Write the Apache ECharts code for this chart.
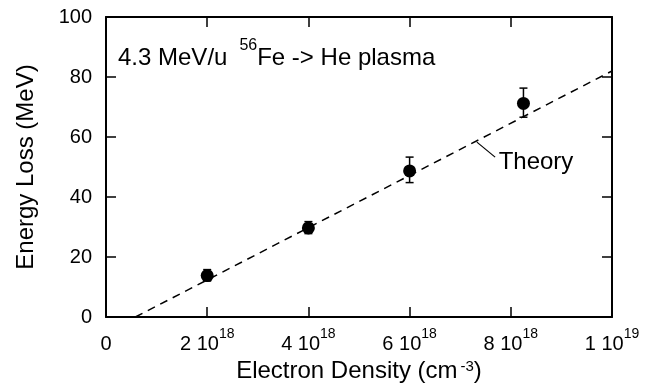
<!DOCTYPE html>
<html>
<head>
<meta charset="utf-8">
<script src="https://cdn.jsdelivr.net/npm/echarts@6/dist/echarts.min.js"></script>
<style>
html, body { margin: 0; padding: 0; background: #fff; }
#chart { width: 661px; height: 390px; }
</style>
</head>
<body>
<div id="chart"></div>
<script>
// measured points (cm^-3, MeV)
const density = [2.0e18, 4.0e18, 6.0e18, 8.25e18];
const energyLoss = [13.8, 29.7, 48.7, 71.2];
const errLow = [12.0, 27.8, 44.8, 66.6];
const errHigh = [15.8, 31.8, 53.3, 76.3];

// theory curve (straight line)
const theoryX = [0.58e18, 1.0e19];
const theoryY = [0, 82];

// tick labels: mantissa part + exponent
const xTickLabels = [['0', ''], ['2 10', '18'], ['4 10', '18'], ['6 10', '18'], ['8 10', '18'], ['1 10', '19']];
const yTickLabels = ['0', '20', '40', '60', '80', '100'];

const FONT = '"Liberation Sans", Arial, Helvetica, sans-serif';

const chartDom = document.getElementById('chart');
const chart = echarts.init(chartDom, null, { renderer: 'canvas' });

const boxLine = { show: true, onZero: false, lineStyle: { color: '#000', width: 2 } };
const tick = { show: true, inside: true, length: 10, lineStyle: { color: '#000', width: 1.5 } };

const option = {
    animation: false,
    backgroundColor: '#fff',
    grid: { left: 106, top: 17, right: 49, bottom: 73 },
    xAxis: [
        {
            type: 'value', position: 'bottom', min: 0, max: 1e19, interval: 2e18,
            axisLine: boxLine, axisTick: tick, splitLine: { show: false },
            axisLabel: {
                margin: 10,
                formatter: function (v) {
                    const t = xTickLabels[Math.round(v / 2e18)];
                    return t[1] ? '{n|' + t[0] + '}{sup|' + t[1] + '}' : '{n|' + t[0] + '}';
                },
                rich: {
                    n: { fontSize: 20, fontFamily: FONT, color: '#000', padding: [7, 0, 0, 0], verticalAlign: 'bottom' },
                    sup: { fontSize: 14, fontFamily: FONT, color: '#000', verticalAlign: 'top' }
                }
            },
            name: 'Electron Density (cm{sup|-3})',
            nameLocation: 'middle',
            nameGap: 40,
            nameTextStyle: {
                fontSize: 24, fontFamily: FONT, color: '#000',
                rich: {
                    sup: { fontSize: 15, fontFamily: FONT, color: '#000', verticalAlign: 'top', padding: [0, 0, 0, 3] }
                }
            }
        },
        {
            type: 'value', position: 'top', min: 0, max: 1e19, interval: 2e18,
            axisLine: boxLine, axisTick: tick, axisLabel: { show: false }, splitLine: { show: false }
        }
    ],
    yAxis: [
        {
            type: 'value', position: 'left', min: 0, max: 100, interval: 20,
            axisLine: boxLine, axisTick: tick, splitLine: { show: false },
            axisLabel: {
                margin: 14, fontSize: 20, fontFamily: FONT, color: '#000',
                formatter: function (v) { return yTickLabels[Math.round(v / 20)]; }
            },
            name: 'Energy Loss (MeV)',
            nameLocation: 'middle',
            nameGap: 68,
            nameTextStyle: { fontSize: 24, fontFamily: FONT, color: '#000' }
        },
        {
            type: 'value', position: 'right', min: 0, max: 100, interval: 20,
            axisLine: boxLine, axisTick: tick, axisLabel: { show: false }, splitLine: { show: false }
        }
    ],
    series: [
        {
            name: 'Theory',
            type: 'line',
            data: theoryX.map((x, i) => [x, theoryY[i]]),
            symbol: 'none',
            lineStyle: { color: '#000', width: 1.5, type: [8, 6] },
            z: 2
        },
        {
            name: 'errors',
            type: 'custom',
            data: density.map((x, i) => [x, energyLoss[i], errLow[i], errHigh[i]]),
            renderItem: function (params, api) {
                const x = api.value(0);
                const lo = api.coord([x, api.value(2)]);
                const hi = api.coord([x, api.value(3)]);
                const cap = 4;
                const st = { stroke: '#000', lineWidth: 1.5 };
                return {
                    type: 'group',
                    children: [
                        { type: 'line', shape: { x1: lo[0], y1: lo[1], x2: hi[0], y2: hi[1] }, style: st },
                        { type: 'line', shape: { x1: lo[0] - cap, y1: lo[1], x2: lo[0] + cap, y2: lo[1] }, style: st },
                        { type: 'line', shape: { x1: hi[0] - cap, y1: hi[1], x2: hi[0] + cap, y2: hi[1] }, style: st }
                    ]
                };
            },
            z: 3
        },
        {
            name: 'data',
            type: 'scatter',
            data: density.map((x, i) => [x, energyLoss[i]]),
            symbol: 'circle',
            symbolSize: 13,
            itemStyle: { color: '#000', opacity: 1 },
            z: 4
        }
    ]
};

chart.setOption(option);

// annotations
const theoryLeader = [[7.33e18, 58.3], [7.69e18, 53.3]];
const theoryText = [7.76e18, 51.7];
const p1 = chart.convertToPixel({ seriesIndex: 0 }, theoryLeader[0]);
const p2 = chart.convertToPixel({ seriesIndex: 0 }, theoryLeader[1]);
const pt = chart.convertToPixel({ seriesIndex: 0 }, theoryText);

chart.setOption({
    graphic: [
        {
            type: 'text',
            left: 118, top: 38,
            style: {
                text: '{n|4.3 MeV/u}{sup|56}{n|Fe -> He plasma}',
                fill: '#000',
                rich: {
                    n: { fontSize: 24, fontFamily: FONT, fill: '#000', padding: [8, 0, 0, 0], verticalAlign: 'bottom' },
                    sup: { fontSize: 16, fontFamily: FONT, fill: '#000', verticalAlign: 'top', padding: [0, 0, 0, 12] }
                }
            }
        },
        {
            type: 'line',
            shape: { x1: p1[0], y1: p1[1], x2: p2[0], y2: p2[1] },
            style: { stroke: '#000', lineWidth: 1.2 }
        },
        {
            type: 'text',
            x: pt[0], y: pt[1],
            style: {
                text: 'Theory', fontSize: 24, fontFamily: FONT, fill: '#000',
                align: 'left', verticalAlign: 'middle'
            }
        }
    ]
});
</script>
</body>
</html>
